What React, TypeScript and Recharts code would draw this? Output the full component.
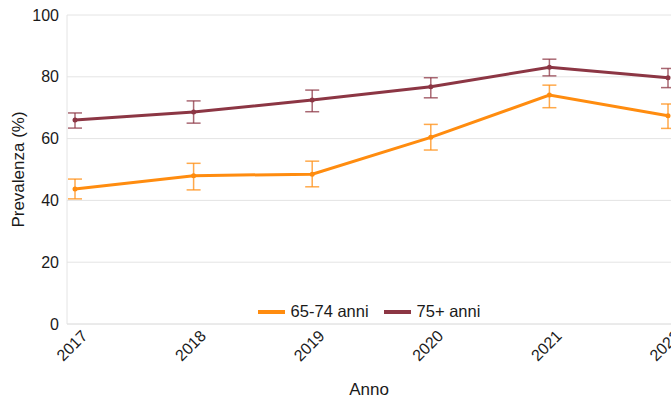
import { CartesianGrid, ErrorBar, Legend, Line, LineChart, XAxis, YAxis } from "recharts";

const YEARS = ["2017", "2018", "2019", "2020", "2021", "2022"];

// 65-74 anni: prevalence and 95% CI
const YOUNG = [43.7, 48.0, 48.5, 60.4, 74.1, 67.4];
const YOUNG_LOW = [40.5, 43.4, 44.4, 56.3, 70.0, 63.3];
const YOUNG_HIGH = [46.9, 52.0, 52.7, 64.6, 77.3, 71.2];

// 75+ anni
const OLD = [66.0, 68.6, 72.5, 76.8, 83.1, 79.7];
const OLD_LOW = [63.4, 65.0, 68.7, 73.2, 80.3, 76.5];
const OLD_HIGH = [68.3, 72.2, 75.7, 79.7, 85.7, 82.7];

const Y_TICKS = [0, 20, 40, 60, 80, 100];

const ORANGE = "#ff8c0f";
const WINE = "#8c3644";
const GRID = "#e4e4e4";
const INK = "#1a1a1a";
const FONT = "'Liberation Sans', Arial, sans-serif";

const data = YEARS.map((year, i) => ({
  year,
  young: YOUNG[i],
  youngErr: [YOUNG[i] - YOUNG_LOW[i], YOUNG_HIGH[i] - YOUNG[i]],
  old: OLD[i],
  oldErr: [OLD[i] - OLD_LOW[i], OLD_HIGH[i] - OLD[i]],
}));

function YearTick({ x, y, payload }: { x?: number; y?: number; payload?: { value: string } }) {
  return (
    <text
      x={x}
      y={y}
      dy={13}
      dx={6}
      fill={INK}
      fontSize={16}
      fontFamily={FONT}
      textAnchor="end"
      transform={`rotate(-45, ${x}, ${y})`}
    >
      {payload?.value}
    </text>
  );
}

function LegendContent() {
  const items = [
    { name: "65-74 anni", color: ORANGE },
    { name: "75+ anni", color: WINE },
  ];
  return (
    <div style={{ display: "flex", justifyContent: "center", gap: 15, fontFamily: FONT, fontSize: 16.5, color: INK }}>
      {items.map((item) => (
        <span key={item.name} style={{ display: "flex", alignItems: "center", gap: 6 }}>
          <span style={{ display: "inline-block", width: 27, height: 4, background: item.color }} />
          {item.name}
        </span>
      ))}
    </div>
  );
}

export default function App() {
  return (
    <div style={{ position: "absolute", left: 0, top: 0, background: "#fff" }}>
      <LineChart width={671} height={400} data={data} margin={{ top: 15, right: 0, left: 0, bottom: 0 }}>
        <CartesianGrid stroke={GRID} vertical={false} />
        <XAxis
          dataKey="year"
          height={76}
          padding={{ left: 8, right: 3 }}
          axisLine={{ stroke: GRID }}
          tickLine={false}
          tick={<YearTick />}
          interval={0}
          label={{ value: "Anno", position: "insideBottom", offset: 5, fill: INK, fontSize: 17, fontFamily: FONT }}
        />
        <YAxis
          width={67}
          domain={[0, 100]}
          ticks={Y_TICKS}
          axisLine={{ stroke: GRID }}
          tickLine={false}
          tick={{ fill: INK, fontSize: 16, fontFamily: FONT }}
          label={{
            value: "Prevalenza (%)",
            angle: -90,
            position: "insideLeft",
            offset: 18,
            style: { textAnchor: "middle" },
            fill: INK,
            fontSize: 17,
            fontFamily: FONT,
          }}
        />
        <Legend verticalAlign="middle" content={<LegendContent />} wrapperStyle={{ top: 302, left: 67, width: 604 }} />
        <Line
          dataKey="young"
          name="65-74 anni"
          stroke={ORANGE}
          strokeWidth={3}
          dot={{ r: 2.5, fill: ORANGE, stroke: ORANGE, strokeWidth: 0 }}
          isAnimationActive={false}
        >
          <ErrorBar dataKey="youngErr" direction="y" width={7} stroke={ORANGE} strokeOpacity={0.75} strokeWidth={1.5} />
        </Line>
        <Line
          dataKey="old"
          name="75+ anni"
          stroke={WINE}
          strokeWidth={3}
          dot={{ r: 2.5, fill: WINE, stroke: WINE, strokeWidth: 0 }}
          isAnimationActive={false}
        >
          <ErrorBar dataKey="oldErr" direction="y" width={7} stroke={WINE} strokeOpacity={0.75} strokeWidth={1.5} />
        </Line>
      </LineChart>
    </div>
  );
}
